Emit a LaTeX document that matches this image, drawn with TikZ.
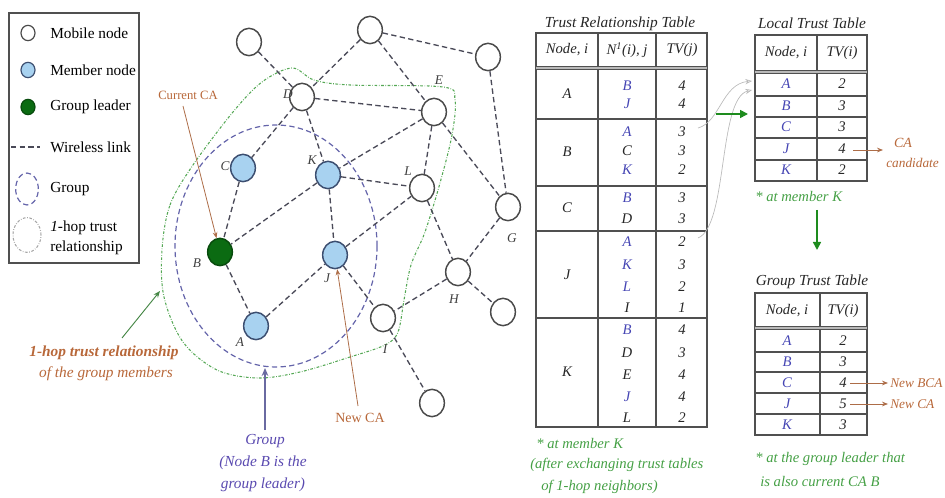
\documentclass[tikz,border=0pt]{standalone}
\usepackage{fontspec}
\setmainfont{Liberation Serif}
\usetikzlibrary{arrows.meta,shapes.geometric}
\definecolor{linkc}{HTML}{4A4A58}
\definecolor{nodec}{HTML}{4A4A4A}
\definecolor{memfill}{HTML}{A8D2F0}
\definecolor{memdraw}{HTML}{3C4E70}
\definecolor{leadfill}{HTML}{0B6B12}
\definecolor{grpc}{HTML}{6464AA}
\definecolor{hopc}{HTML}{55A855}
\definecolor{brownc}{HTML}{B8683A}
\definecolor{purpc}{HTML}{5A4AB0}
\definecolor{greentxt}{HTML}{45A045}
\definecolor{bluetxt}{HTML}{4646B4}
\definecolor{gridc}{HTML}{505050}
\definecolor{arrg}{HTML}{1E8C1E}
\begin{document}
\begin{tikzpicture}[x=0.75pt,y=-0.75pt,
  mob/.style={ellipse,draw=nodec,line width=1.1pt,fill=white,minimum width=18.5pt,minimum height=20.5pt,inner sep=0pt},
  mem/.style={mob,fill=memfill,draw=memdraw},
  lead/.style={mob,fill=leadfill,draw=leadfill!70!black},
  legic/.style={minimum width=10.5pt,minimum height=11.5pt,line width=0.9pt},
  link/.style={draw=linkc,line width=1pt,dash pattern=on 4pt off 2.5pt},
  grp/.style={draw=grpc,line width=0.9pt,dash pattern=on 4pt off 2.5pt},
  hop/.style={draw=hopc,line width=0.8pt,dash pattern=on 2pt off 1.2pt on 0.5pt off 1.2pt},
  legtxt/.style={anchor=west,font=\fontsize{11.5}{13}\selectfont,inner sep=0pt},
  lbl/.style={font=\fontsize{10}{12}\selectfont\itshape,text=black!75,inner sep=0pt},
  tt/.style={font=\fontsize{11}{13}\selectfont\itshape,inner sep=0pt,text=black!85},
  tb/.style={tt,text=bluetxt},
  ttitle/.style={font=\fontsize{11.5}{13}\selectfont\itshape,inner sep=0pt,text=black!85},
  tgrid/.style={draw=gridc,line width=0.8pt},
  hdr/.style={draw=gridc,line width=0.5pt,double=gray!55,double distance=1.4pt},
  gnote/.style={anchor=west,text=greentxt,font=\fontsize{11}{13}\selectfont\itshape,inner sep=0pt},
  barr/.style={draw=brownc!80!gray,line width=0.6pt,-{Stealth[length=4.5pt,width=3.5pt]}},
  garr/.style={draw=arrg,line width=1.2pt,-{Triangle[length=6pt,width=6pt]}},
  carr/.style={draw=gray!55,line width=0.5pt,-{Stealth[open,length=5pt,width=4pt]}},
  sidetxt/.style={text=brownc,font=\fontsize{10}{12}\selectfont\itshape,inner sep=0pt,anchor=west}
]
\useasboundingbox (0,0) rectangle (945,498);
% ---------------- legend
\draw[tgrid] (9,13) rectangle (139,263);
\node[mob,legic] (lg1) at (28,33) {};
\node[legtxt] (lt1) at (50,33) {Mobile node};
\node[mem,legic] (lg2) at (28,70) {};
\node[legtxt] (lt2) at (50,70) {Member node};
\node[lead,legic] (lg3) at (28,107) {};
\node[legtxt] (lt3) at (50,107) {Group leader};
\coordinate (lw1) at (11,147);
\coordinate (lw2) at (40,147);
\draw[link] (lw1) -- (lw2);
\node[legtxt] (lt4) at (50,147) {Wireless link};
\draw[grp] (27,189) ellipse [x radius=8.5pt, y radius=12pt];
\node[legtxt] (lt5) at (50,189) {Group};
\draw[hop,draw=gray!70] (27,235) ellipse [x radius=10.5pt, y radius=13pt];
\node[legtxt] (lt6) at (50,228) {\textit{1}-hop trust};
\node[legtxt] (lt7) at (50,248) {relationship};
% ---------------- regions
\draw[hop] plot[smooth cycle, tension=0.55] coordinates {(162,250) (170,205) (193,165) (233,112) (262,82) (292,68) (314,80) (350,85) (443,87) (455,100) (452,135) (440,183) (425,232) (411,265) (404,300) (398,332) (385,345) (350,357) (300,372) (258,378) (217,370) (183,342) (164,297)};
\draw[grp] (276,246) ellipse [x radius=75.75pt, y radius=90.75pt];
% ---------------- nodes
\node[mob] (n1) at (249,42) {};
\node[mob] (n2) at (370,30) {};
\node[mob] (n3) at (488,57) {};
\node[mob] (D) at (302,97) {};
\node[mob] (E) at (434,112) {};
\node[mem] (C) at (243,168) {};
\node[mem] (K) at (328,175) {};
\node[mob] (L) at (422,188) {};
\node[mob] (G) at (508,207) {};
\node[lead] (B) at (220,252) {};
\node[mem] (J) at (335,255) {};
\node[mob] (H) at (458,272) {};
\node[mem] (A) at (256,326) {};
\node[mob] (I) at (383,318) {};
\node[mob] (n4) at (503,312) {};
\node[mob] (n5) at (432,403) {};
\draw[link] (n1)--(D) (n2)--(D) (n2)--(E) (n2)--(n3) (n3)--(G) (D)--(E) (D)--(C) (D)--(K)
  (E)--(K) (E)--(L) (E)--(G) (K)--(L) (K)--(J) (K)--(B) (C)--(B) (B)--(A) (A)--(J)
  (J)--(L) (J)--(I) (L)--(H) (G)--(H) (H)--(I) (H)--(n4) (I)--(n5);
\node[lbl] (lD) at (288,94) {D};
\node[lbl] (lE) at (439,80) {E};
\node[lbl] (lC) at (225,166) {C};
\node[lbl] (lK) at (312,160) {K};
\node[lbl] (lL) at (408,171) {L};
\node[lbl] (lG) at (512,238) {G};
\node[lbl] (lB) at (197,263) {B};
\node[lbl] (lJ) at (327,278) {J};
\node[lbl] (lA) at (240,342) {A};
\node[lbl] (lH) at (454,299) {H};
\node[lbl] (lI) at (385,349) {I};
% ---------------- annotations
\node[text=brownc,font=\fontsize{9.5}{11}\selectfont,inner sep=0pt] (curca) at (188,95) {Current CA};
\coordinate (curcaA) at (183,106);
\draw[barr] (curcaA) -- (B);
\node[text=brownc,font=\fontsize{11.5}{13}\selectfont\bfseries\itshape,inner sep=0pt] (hopt1) at (104,353) {1-hop trust relationship};
\node[text=brownc,font=\fontsize{11.5}{13}\selectfont\itshape,inner sep=0pt] (hopt2) at (106,374) {of the group members};
\coordinate (hopA) at (160,291);
\coordinate (hopS) at (122,338);
\draw[draw=hopc!80!black,line width=0.7pt,-{Stealth[length=5pt,width=4pt]}] (hopS) -- (hopA);
\node[text=brownc,font=\fontsize{10.5}{12}\selectfont,inner sep=0pt] (newca) at (360,418) {New CA};
\coordinate (newcaS) at (358,406);
\draw[barr] (newcaS) -- (J);
\node[text=purpc,font=\fontsize{11.5}{13}\selectfont\itshape,inner sep=0pt] (gr1) at (265,441) {Group};
\node[text=purpc,font=\fontsize{11.5}{13}\selectfont\itshape,inner sep=0pt] (gr2) at (263,463) {(Node B is the};
\node[text=purpc,font=\fontsize{11.5}{13}\selectfont\itshape,inner sep=0pt] (gr3) at (263,485) {group leader)};
\coordinate (grpA) at (265,368);
\coordinate (grpS) at (265,430);
\draw[draw=grpc!80!gray,line width=1.5pt,-{Stealth[length=6pt,width=5pt]}] (grpS) -- (grpA);
% ---------------- trust relationship table
\node[ttitle] (tt0) at (620,24) {Trust Relationship Table};
\draw[tgrid] (536,33) rectangle (707,427);
\draw[tgrid] (598,33) -- (598,427) (656,33) -- (656,427);
\draw[tgrid] (536,119) -- (707,119) (536,186) -- (707,186) (536,231) -- (707,231) (536,318) -- (707,318);
\draw[hdr] (536,68) -- (707,68);
\node[tt] (th1) at (567,50) {Node, i};
\node[tt] (th2) at (627,50) {N\textsuperscript{1}(i), j};
\node[tt] (th3) at (682,50) {TV(j)};
\node[tt] (rA) at (567,94) {A};
\node[tt] (rB) at (567,152) {B};
\node[tt] (rC) at (567,208) {C};
\node[tt] (rJ) at (567,275) {J};
\node[tt] (rK) at (567,372) {K};
\foreach \nm/\y/\v in {a1/86/4, a2/104/4, b1/132/3, b2/151/3, b3/170/2,
  c1/198/3, c2/219/3, j1/242/2, j2/265/3, j3/287/2, j4/308/1,
  k1/330/4, k2/353/3, k3/375/4, k4/397/4, k5/418/2}
  {\node[tt] (v\nm) at (682,\y) {\v};}
\node[tb] (ea1) at (627,86) {B};
\node[tb] (ea2) at (627,104) {J};
\node[tb] (eb1) at (627,132) {A};
\node[tt] (eb2) at (627,151) {C};
\node[tb] (eb3) at (627,170) {K};
\node[tb] (ec1) at (627,198) {B};
\node[tt] (ec2) at (627,219) {D};
\node[tb] (ej1) at (627,242) {A};
\node[tb] (ej2) at (627,265) {K};
\node[tb] (ej3) at (627,287) {L};
\node[tt] (ej4) at (627,308) {I};
\node[tb] (ek1) at (627,330) {B};
\node[tt] (ek2) at (627,353) {D};
\node[tt] (ek3) at (627,375) {E};
\node[tb] (ek4) at (627,397) {J};
\node[tt] (ek5) at (627,418) {L};
\node[gnote] (tn1) at (536,443) {* at member K};
\node[gnote] (tn2) at (530,465) {(after exchanging trust tables};
\node[gnote] (tn3) at (541,487) {of 1-hop neighbors)};
% curved arrows
\coordinate (cs1) at (698,128);
\coordinate (ce1) at (752,81);
\coordinate (cs2) at (698,238);
\coordinate (ce2) at (752,90);
\draw[carr] (cs1) .. controls (720,122) and (722,84) .. (ce1);
\draw[carr] (cs2) .. controls (728,226) and (718,98) .. (ce2);
\coordinate (gs) at (716,114);
\coordinate (ge) at (748,114);
\draw[garr] (gs) -- (ge);
% ---------------- local trust table
\node[ttitle] (lt0) at (812,23) {Local Trust Table};
\draw[tgrid] (755,35) rectangle (867,181);
\draw[tgrid] (817,35) -- (817,181);
\draw[tgrid] (755,96) -- (867,96) (755,117) -- (867,117) (755,138) -- (867,138) (755,160) -- (867,160);
\draw[hdr] (755,72) -- (867,72);
\node[tt] (lh1) at (786,53) {Node, i};
\node[tt] (lh2) at (842,53) {TV(i)};
\foreach \nm/\y/\v in {A/84/2, B/106/3, C/127/3, J/149/4, K/170/2}
  {\node[tb] (ln\nm) at (786,\y) {\nm}; \node[tt] (lv\nm) at (842,\y) {\v};}
\coordinate (lcs) at (853,150);
\coordinate (lce) at (883,150);
\draw[barr] (lcs) -- (lce);
\node[text=brownc,font=\fontsize{10.5}{12}\selectfont\itshape,inner sep=0pt] (cand1) at (903,143) {CA};
\node[sidetxt] (cand2) at (886,163) {candidate};
\node[gnote] (ln0) at (755,196) {* at member K};
\coordinate (ds) at (817,210);
\coordinate (de) at (817,250);
\draw[garr] (ds) -- (de);
% ---------------- group trust table
\node[ttitle] (gt0) at (812,282) {Group Trust Table};
\draw[tgrid] (755,293) rectangle (867,435);
\draw[tgrid] (820,293) -- (820,435);
\draw[tgrid] (755,352) -- (867,352) (755,372) -- (867,372) (755,393) -- (867,393) (755,414) -- (867,414);
\draw[hdr] (755,328) -- (867,328);
\node[tt] (gh1) at (787,311) {Node, i};
\node[tt] (gh2) at (843,311) {TV(i)};
\foreach \nm/\y/\v in {A/341/2, B/362/3, C/383/4, J/404/5, K/425/3}
  {\node[tb] (gn\nm) at (787,\y) {\nm}; \node[tt] (gv\nm) at (843,\y) {\v};}
\coordinate (gcs1) at (850,383);
\coordinate (gce1) at (888,383);
\draw[barr] (gcs1) -- (gce1);
\node[sidetxt] (bca) at (890,383) {New BCA};
\coordinate (gcs2) at (850,404);
\coordinate (gce2) at (888,404);
\draw[barr] (gcs2) -- (gce2);
\node[sidetxt] (nca) at (890,404) {New CA};
\node[gnote] (gn0) at (755,459) {* at the group leader that};
\node[gnote] (gn01) at (760,481) {is also current CA B};
\end{tikzpicture}
\end{document}
